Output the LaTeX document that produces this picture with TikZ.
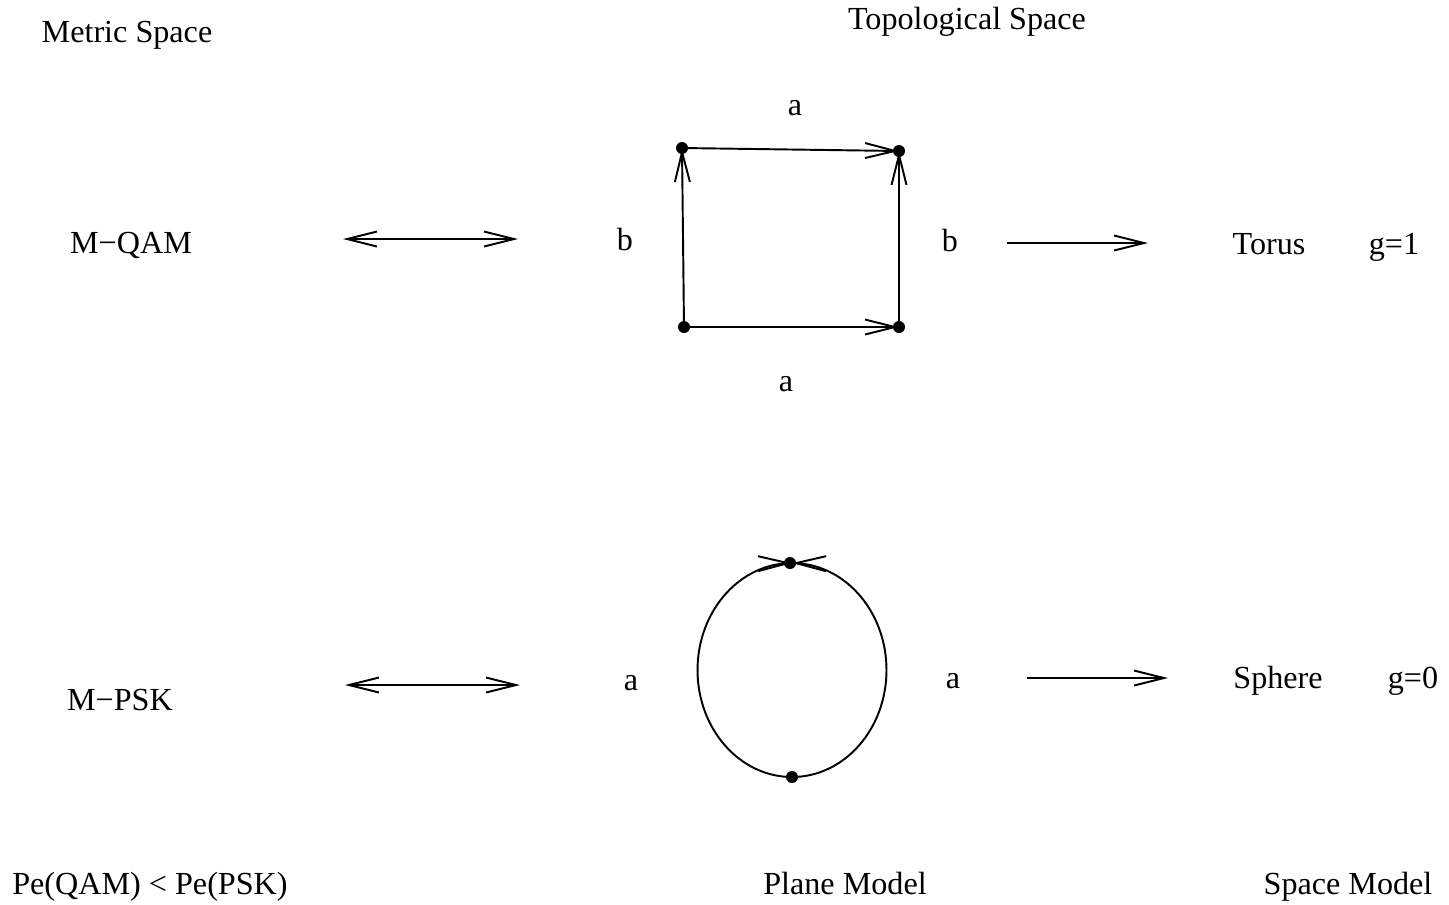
\documentclass[tikz,border=0pt]{standalone}
\usepackage{fontspec}
\setmainfont{Liberation Serif}
\usetikzlibrary{arrows.meta,bending}

\begin{document}
\begin{tikzpicture}[x=0.02cm, y=-0.02cm,
    lbl/.style={font=\fontsize{18.3}{22}\selectfont, inner sep=0pt, anchor=base},
    conn/.style={line width=1.1pt, -{Straight Barb[length=0.6cm, width=0.3cm]}},
    dconn/.style={line width=1.1pt, {Straight Barb[length=0.6cm, width=0.3cm]}-{Straight Barb[length=0.6cm, width=0.3cm]}},
    bconn/.style={line width=1.1pt, -{Straight Barb[length=0.6cm, width=0.3cm, flex]}},
    dot/.style={circle, fill, inner sep=0pt, minimum size=0.24cm},
]
\useasboundingbox (0,0) rectangle (1449,904);

% Headers
\node[lbl] (metric) at (127,42) {Metric Space};
\node[lbl] (topo) at (967,29) {Topological Space};

% --- Row 1: QAM / torus ---
\node[lbl] (mqam) at (131,253) {M−QAM};
\coordinate (qamL) at (343,239);
\coordinate (qamR) at (518,239);
\draw[dconn] (qamL) -- (qamR);

\node[dot] (tl) at (682,148) {};
\node[dot] (tr) at (899,151) {};
\node[dot] (bl) at (684,327) {};
\node[dot] (br) at (899,327) {};
\draw[conn] (tl.center) -- (tr.center);
\draw[conn] (bl.center) -- (br.center);
\draw[conn] (bl.center) -- (tl.center);
\draw[conn] (br.center) -- (tr.center);
\node[lbl] (atop) at (795,115) {a};
\node[lbl] (abot) at (786,391) {a};
\node[lbl] (bleft) at (625,250) {b};
\node[lbl] (bright) at (950,251) {b};

\coordinate (torL) at (1007,243);
\coordinate (torR) at (1148,243);
\draw[conn] (torL) -- (torR);
\node[lbl] (torus) at (1269,254) {Torus};
\node[lbl] (gone) at (1394,254) {g=1};

% --- Row 2: PSK / sphere ---
\node[lbl] (mpsk) at (120,710) {M−PSK};
\coordinate (pskL) at (345,685);
\coordinate (pskR) at (520,685);
\draw[dconn] (pskL) -- (pskR);

\node[dot] (top) at (790,563) {};
\node[dot] (bot) at (792,777) {};
\draw[bconn] (bot.center) arc[start angle=270, end angle=90, x radius=1.89cm, y radius=2.14cm];
\draw[bconn] (bot.center) arc[start angle=-90, end angle=90, x radius=1.89cm, y radius=2.14cm];
\node[lbl] (aleft) at (631,690) {a};
\node[lbl] (aright) at (953,688) {a};

\coordinate (sphL) at (1027,678);
\coordinate (sphR) at (1168,678);
\draw[conn] (sphL) -- (sphR);
\node[lbl] (sphere) at (1278,688) {Sphere};
\node[lbl] (gzero) at (1413,688) {g=0};

% Footer
\node[lbl] (pe) at (150,894) {Pe(QAM) < Pe(PSK)};
\node[lbl] (plane) at (845,894) {Plane Model};
\node[lbl] (space) at (1348,894) {Space Model};
\end{tikzpicture}
\end{document}
